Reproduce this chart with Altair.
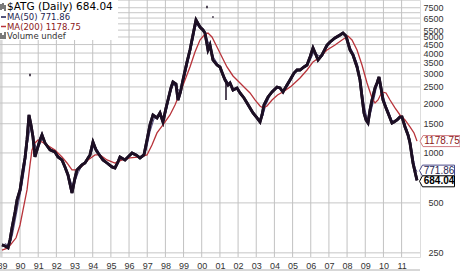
import altair as alt
import pandas as pd

# ---------------- data ----------------
price_dates = ["1989-01-03","1989-03-06","1989-05-05","1989-06-14","1989-07-24","1989-09-23","1989-11-02",
    "1990-01-01","1990-03-02","1990-04-11","1990-05-21","1990-06-30","1990-08-09","1990-09-18","1990-10-28",
    "1990-12-08","1991-02-06","1991-03-18","1991-05-17","1991-08-26","1991-12-04","1992-02-03","1992-04-23",
    "1992-06-22","1992-08-22","1992-11-10","1993-01-09","1993-02-19","1993-05-30","1993-07-29","1993-11-07",
    "1994-01-06","1994-03-08","1994-04-17","1994-07-26","1994-10-15","1995-01-23","1995-03-24","1995-05-24",
    "1995-07-03","1995-10-12","1996-03-01","1996-05-20","1996-08-08","1996-10-27","1996-12-27","1997-02-25",
    "1997-04-26","1997-07-16","1997-09-14","1997-11-13","1998-01-13","1998-02-22","1998-04-23","1998-06-02",
    "1998-08-02","1998-09-11","1998-10-31","1998-12-20","1999-03-11","1999-05-10","1999-07-09","1999-09-08",
    "1999-11-27","2000-01-26","2000-03-07","2000-05-06","2000-06-15","2000-08-14","2000-11-03","2001-01-02",
    "2001-03-04","2001-04-13","2001-06-13","2001-07-23","2001-09-21","2001-12-11","2002-02-09","2002-04-30",
    "2002-06-30","2002-08-29","2002-10-28","2003-01-17","2003-03-18","2003-04-27","2003-06-06","2003-08-26",
    "2003-11-14","2004-02-23","2004-04-23","2004-06-22","2004-09-11","2004-11-10","2005-01-29","2005-03-31",
    "2005-05-30","2005-08-18","2005-10-18","2005-12-17","2006-02-15","2006-04-17","2006-05-27","2006-08-15",
    "2006-11-24","2007-01-23","2007-05-04","2007-08-12","2007-10-11","2007-12-11","2008-02-29","2008-04-29",
    "2008-07-19","2008-09-17","2008-10-27","2008-12-06","2009-01-16","2009-02-25","2009-04-06","2009-05-16",
    "2009-07-16","2009-08-25","2009-10-04","2009-11-13","2009-12-23","2010-02-22","2010-04-03","2010-05-13",
    "2010-06-22","2010-08-01","2010-10-01","2010-11-30","2011-01-09","2011-03-11","2011-05-10","2011-06-19",
    "2011-08-18","2011-09-28","2011-11-07"]
price_vals = [279,275,268,300,354,441,521,
    599,790,933,1198,1694,1475,1248,946,
    1043,1198,1284,1149,1043,1014,946,908,
    824,737,574,707,790,847,870,973,
    1165,1043,1000,908,870,824,812,883,
    946,908,1000,973,933,973,1198,1475,
    1694,1625,1742,1537,1867,2086,2464,2677,
    2600,2086,2331,2753,3534,4174,5138,6327,
    5741,5508,5283,4174,4473,3633,3389,3298,
    2951,2753,2568,2641,2396,2464,2299,2145,
    2001,1867,1742,1625,1537,1694,1946,2175,
    2331,2498,2464,2331,2568,2753,3033,3162,
    3162,3298,3389,3788,4291,3894,3633,3894,
    4473,4663,4929,5138,5283,5068,4174,3894,
    3298,2753,2175,1742,1580,1516,1816,2086,
    2464,2641,2870,2464,2086,1867,1742,1625,
    1516,1537,1580,1648,1648,1434,1284,1149,
    870,768,684.04]

ma50_dates = ["1989-03-01","1989-06-01","1989-08-01","1989-10-01","1989-12-01","1990-02-01","1990-04-01",
    "1990-06-01","1990-08-01","1990-10-01","1990-12-01","1991-02-01","1991-04-01","1991-06-01","1991-09-01",
    "1991-12-01","1992-03-01","1992-06-01","1992-09-01","1992-11-15","1993-01-15","1993-03-15","1993-06-01",
    "1993-09-01","1993-12-01","1994-02-01","1994-04-01","1994-07-01","1994-10-01","1995-01-01","1995-04-01",
    "1995-07-01","1995-10-01","1996-03-01","1996-06-01","1996-09-01","1996-12-15","1997-03-01","1997-05-15",
    "1997-08-01","1997-10-01","1997-12-01","1998-02-01","1998-04-01","1998-06-01","1998-08-01","1998-10-15",
    "1998-12-15","1999-03-01","1999-05-01","1999-07-01","1999-09-01","1999-11-15","2000-02-01","2000-04-01",
    "2000-06-01","2000-09-01","2000-11-15","2001-02-01","2001-04-15","2001-07-01","2001-10-01","2001-12-15",
    "2002-03-01","2002-06-01","2002-09-01","2002-12-01","2003-03-15","2003-05-15","2003-07-15","2003-10-01",
    "2004-01-01","2004-04-01","2004-07-15","2004-10-01","2004-12-15","2005-03-01","2005-06-01","2005-09-01",
    "2005-12-15","2006-03-15","2006-05-15","2006-08-15","2006-11-15","2007-02-01","2007-05-01","2007-08-01",
    "2007-10-15","2007-12-15","2008-03-01","2008-05-15","2008-08-01","2008-10-15","2008-12-15","2009-02-15",
    "2009-04-15","2009-06-15","2009-08-15","2009-10-15","2009-12-15","2010-02-15","2010-04-15","2010-06-15",
    "2010-08-15","2010-10-15","2010-12-15","2011-02-15","2011-04-15","2011-06-15","2011-08-15","2011-10-01",
    "2011-11-07"]
ma50_vals = [285,275,320,400,500,620,800,
    1150,1450,1200,1050,1120,1230,1150,1060,
    1020,950,860,730,640,680,760,840,
    880,1000,1120,1050,940,880,840,820,
    900,920,980,970,940,1050,1350,1600,
    1650,1680,1600,1850,2250,2580,2520,2350,
    2600,3200,3850,4700,5800,5900,5550,5000,
    4500,3750,3450,3150,2850,2600,2450,2420,
    2280,2060,1880,1700,1570,1680,1950,2200,
    2420,2470,2370,2550,2800,3080,3180,3300,
    3600,4100,3900,3800,4300,4620,4870,5080,
    5230,5100,4350,3950,3400,2500,1900,1580,
    1720,2050,2500,2750,2300,1950,1780,1580,
    1540,1570,1630,1560,1400,1220,960,810,
    771.86]

ma200_dates = ["1989-01-03","1989-05-05","1989-07-24","1989-10-13","1990-01-01","1990-03-22","1990-05-21",
    "1990-07-20","1990-08-29","1990-10-28","1990-12-28","1991-03-18","1991-06-27","1991-12-04","1992-04-23",
    "1992-08-02","1992-11-10","1993-02-19","1993-05-30","1993-09-27","1994-02-16","1994-05-27","1994-10-15",
    "1995-03-24","1995-08-12","1996-01-20","1996-08-08","1996-12-27","1997-04-06","1997-07-16","1997-11-13",
    "1998-04-03","1998-07-13","1998-10-21","1999-01-30","1999-05-10","1999-08-19","1999-11-27","2000-03-07",
    "2000-05-06","2000-07-25","2000-11-03","2001-02-11","2001-05-23","2001-09-21","2002-02-09","2002-05-20",
    "2002-08-29","2002-12-07","2003-03-18","2003-05-17","2003-08-06","2003-11-14","2004-03-04","2004-07-22",
    "2004-12-09","2005-05-30","2005-10-18","2006-02-15","2006-07-06","2006-11-24","2007-05-04","2007-09-21",
    "2008-01-19","2008-04-09","2008-07-19","2008-10-27","2009-02-05","2009-05-16","2009-07-16","2009-09-14",
    "2009-12-03","2010-02-22","2010-05-13","2010-08-21","2010-11-30","2011-03-11","2011-06-19","2011-09-08",
    "2011-11-07"]
ma200_vals = [260,268,287,308,368,486,599,
    847,1043,1149,1198,1165,1117,1043,946,
    870,790,790,835,908,973,973,908,
    870,908,933,946,973,1117,1320,1475,
    1694,1946,2299,2753,3298,4059,4794,5210,
    5283,4998,4351,3788,3298,2910,2641,2464,
    2299,2086,1919,1867,1919,2086,2236,2363,
    2533,2830,3162,3534,3788,4174,4473,4794,
    5068,4794,4174,3389,2641,2145,2001,2086,
    2331,2299,2086,1867,1694,1580,1434,1320,
    1178.75]

# stray bad ticks / spikes: (date, low, high)
spike_dates = ["1990-07-20", "2000-04-16", "2000-08-14", "2001-05-03"]
spike_low = [2900, 7450, 6530, 2086]
spike_high = [3000, 7700, 6660, 2753]

y_ticks = [250, 500, 1000, 1500, 2000, 2500, 3000, 3500, 4000, 4500, 5000, 5500, 6500, 7500]
grid_values = [250, 500, 1000, 1500, 2000, 2500, 3000, 3500, 4000, 4500, 5000, 5500, 6000, 6500, 7000, 7500]
years = list(range(1989, 2012))
year_dates = [f"{y}-01-01" for y in years]

title_text = "$ATG (Daily) 684.04"
legend_texts = ["MA(50) 771.86", "MA(200) 1178.75", "Volume undef"]

# ---------------- build ----------------
price = pd.DataFrame({"date": price_dates, "v": price_vals})
ma50 = pd.DataFrame({"date": ma50_dates, "v": ma50_vals})
ma200 = pd.DataFrame({"date": ma200_dates, "v": ma200_vals})
spikes = pd.DataFrame({"date": spike_dates, "lo": spike_low, "hi": spike_high})
hgrid = pd.DataFrame({"v": grid_values})
vgrid = pd.DataFrame({"date": year_dates})

xs = alt.Scale(domain=[alt.DateTime(year=1988, month=11, date=24),
                       alt.DateTime(year=2012, month=1, date=6)])
ys = alt.Scale(type="log", domain=[236, 8353], nice=False)

x_axis = alt.Axis(values=[alt.DateTime(year=y, month=1, date=1) for y in years],
                  format="%y", labelFontSize=9, labelColor="#333333",
                  labelFont="Liberation Sans", tickSize=0, labelPadding=4, title=None,
                  grid=False, domain=False, labelFlush=False, labelOverlap=False)
y_axis = alt.Axis(orient="right", values=y_ticks, labelFontSize=9, labelColor="#333333",
                  labelFont="Liberation Sans", tickSize=0, labelAlign="right", title=None,
                  labelPadding=23, grid=False, domain=False,
                  labelFlush=False, labelOverlap=False, format="d")


def xe(field="date:T"):
    return alt.X(field, scale=xs, axis=x_axis, title=None)


def ye(field="v:Q"):
    return alt.Y(field, scale=ys, axis=y_axis, title=None)


hg = alt.Chart(hgrid).mark_rule(color="#c6c6c6", strokeWidth=1).encode(
    y=ye(), x=alt.value(0), x2=alt.value(420))
vg = alt.Chart(vgrid).mark_rule(color="#c2c2c2", strokeWidth=1).encode(
    x=xe(), y=alt.value(0), y2=alt.value(257))

price_line = alt.Chart(price).mark_line(color="#1c0f24", strokeWidth=2.8, strokeJoin="miter").encode(
    x=xe(), y=ye())
line50 = alt.Chart(ma50).mark_line(color="#2b2160", strokeWidth=1, opacity=0.8).encode(x=xe(), y=ye())
line200 = alt.Chart(ma200).mark_line(color="#b8333a", strokeWidth=1.3).encode(x=xe(), y=ye())
spike_layer = alt.Chart(spikes).mark_rule(color="#1c0f24", strokeWidth=1.5).encode(
    x=xe(), y=ye("lo:Q"), y2="hi:Q")

txt_df = pd.DataFrame({"k": [0]})
box = alt.Chart(txt_df).mark_rect(color="white").encode(
    x=alt.value(0), x2=alt.value(118), y=alt.value(0), y2=alt.value(40))

title = alt.Chart(txt_df).mark_text(text=title_text, align="left", baseline="middle",
                                    font="DejaVu Sans", fontSize=10.5, color="#000000").encode(
    x=alt.value(7), y=alt.value(7))

# small bar icons (title and volume) drawn as tiny rules
icon_x = [1, 3, 5, 1, 3, 5]
icon_y1 = [4, 3, 5, 33, 35, 32]
icon_y2 = [10, 9, 11, 39, 39, 39]
icon_layers = []
for ix, a, b in zip(icon_x, icon_y1, icon_y2):
    icon_layers.append(alt.Chart(txt_df).mark_rule(color="#222222", strokeWidth=1.2).encode(
        x=alt.value(ix), y=alt.value(a), y2=alt.value(b)))

leg_colors = ["#1e1e50", "#8b2020", "#333333"]
leg_layers = []
for i, (t, c) in enumerate(zip(legend_texts, leg_colors)):
    yy = 17 + i * 9.5
    leg_layers.append(alt.Chart(txt_df).mark_text(text=t, align="left", baseline="middle",
                      font="DejaVu Sans", fontSize=8.5, color=c).encode(
                      x=alt.value(7), y=alt.value(yy)))
dash50 = alt.Chart(txt_df).mark_rule(color="#1e1e50", strokeWidth=1.5).encode(
    x=alt.value(1), x2=alt.value(6), y=alt.value(17))
dash200 = alt.Chart(txt_df).mark_rule(color="#b8333a", strokeWidth=1.5).encode(
    x=alt.value(1), x2=alt.value(6), y=alt.value(26.5))

tag_specs = [("1178.75", 1178.75, "#d07a80", "#8b2020", 40, 440, 0),
             ("771.86", 771.86, "#4a4a8a", "#1e1e50", 35, 437, -1),
             ("684.04", 684.04, "#000000", "#000000", 35, 437, 1)]
tags = []
for lab, val, stroke, tcol, w, cx, off in tag_specs:
    d = pd.DataFrame({"v": [val], "lab": [lab]})
    hh = 5.5 / (w / 2)
    tip = 1 - 3.0 / (w / 2)
    path = f"M -1 0 L {-tip:.3f} {-hh:.3f} L 1 {-hh:.3f} L 1 {hh:.3f} L {-tip:.3f} {hh:.3f} Z"
    tags.append(alt.Chart(d).mark_point(shape=path, filled=True, fill="white", stroke=stroke,
                                        strokeWidth=1, size=w * w, opacity=1, yOffset=off).encode(
        x=alt.value(cx), y=ye()))
    tags.append(alt.Chart(d).mark_text(align="center", baseline="middle", font="Liberation Sans",
                                       fontSize=10, color=tcol, dx=2, yOffset=off,
                                       fontWeight="bold" if lab == "684.04" else "normal").encode(
        x=alt.value(cx), y=ye(), text="lab:N"))

bottom_line = alt.Chart(txt_df).mark_rule(color="#b0b0b0", strokeWidth=1).encode(
    x=alt.value(0), x2=alt.value(420), y=alt.value(270))

chart = alt.layer(hg, vg, price_line, box, line50, line200, price_line, spike_layer,
                  title, *icon_layers, *leg_layers, dash50, dash200, *tags, bottom_line
).properties(
    width=420, height=257,
    autosize=alt.AutoSizeParams(type="none"),
    padding={"left": 0, "top": 0, "right": 40, "bottom": 15}
).configure_view(stroke="#a8a8a8", strokeWidth=1).configure(background="white")

chart.save("out.html", embed_options={"renderer": "svg", "actions": False})
